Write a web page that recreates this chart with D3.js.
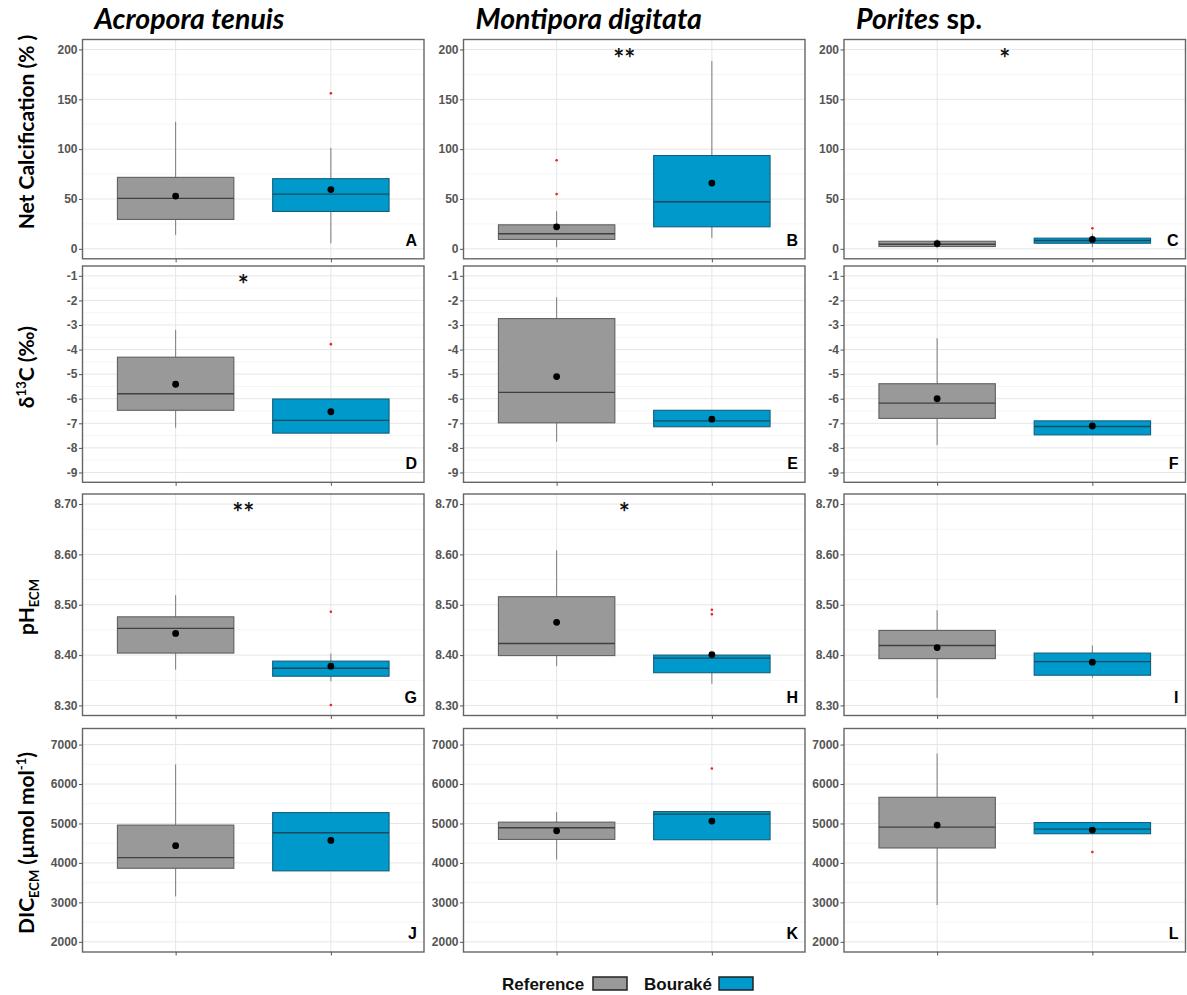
<!DOCTYPE html>
<html><head><meta charset="utf-8">
<script src="https://cdn.jsdelivr.net/npm/d3@7"></script>
<style>body{margin:0;background:#fff} svg{display:block}</style>
</head><body><svg id="c" width="1187" height="995"></svg>
<script>
// ---------- data ----------
const species = ["Acropora tenuis", "Montipora digitata", "Porites sp."];
const sites = ["Reference", "Bouraké"];
const siteColors = ["#999999", "#0099cc"];
const panelLetters = ["A","B","C","D","E","F","G","H","I","J","K","L"];

// per species: [Reference, Bouraké], each [whiskerLow, q1, median, q3, whiskerHigh, mean]
const calcStats = [
  [[14, 29.5, 50.6, 71.7, 127.4, 52.9], [5.6, 37.5, 54.9, 70.4, 101.2, 59.4]],
  [[1.6, 9.4, 15.1, 24.1, 37.8, 22.1], [11, 22.1, 47.3, 93.6, 188.4, 66]],
  [[0.5, 2.3, 4.6, 7.6, 9.5, 5.3], [1.6, 5.6, 8.3, 10.7, 15, 9.4]]
];
const calcOutliers = [[[], [156]], [[54.9, 88.8], []], [[], [20.7]]];

const d13cStats = [
  [[-7.18, -6.47, -5.80, -4.31, -3.20, -5.41], [-7.40, -7.40, -6.88, -6.01, -6.01, -6.53]],
  [[-7.75, -6.98, -5.74, -2.74, -1.87, -5.10], [-7.14, -7.14, -6.90, -6.47, -6.47, -6.83]],
  [[-7.89, -6.80, -6.18, -5.39, -3.54, -6.00], [-7.47, -7.47, -7.13, -6.90, -6.90, -7.11]]
];
const d13cOutliers = [[[], [-3.78]], [[], []], [[], []]];

const phStats = [
  [[8.371, 8.404, 8.453, 8.476, 8.519, 8.443], [8.348, 8.358, 8.374, 8.388, 8.403, 8.378]],
  [[8.378, 8.399, 8.423, 8.516, 8.608, 8.465], [8.343, 8.365, 8.394, 8.400, 8.400, 8.401]],
  [[8.315, 8.393, 8.419, 8.449, 8.489, 8.415], [8.355, 8.360, 8.387, 8.404, 8.419, 8.386]]
];
const phOutliers = [[[], [8.486, 8.301]], [[], [8.490, 8.481]], [[], []]];

const dicStats = [
  [[3152, 3865, 4135, 4959, 6496, 4437], [3799, 3799, 4765, 5276, 5276, 4571]],
  [[4084, 4596, 4891, 5034, 5286, 4815], [4588, 4588, 5236, 5302, 5302, 5060]],
  [[2932, 4379, 4908, 5664, 6773, 4959], [4740, 4740, 4858, 5024, 5024, 4833]]
];
const dicOutliers = [[[], []], [[], [6395]], [[], [4278]]];

const calcTicks = [0, 50, 100, 150, 200];
const d13cTicks = [-9, -8, -7, -6, -5, -4, -3, -2, -1];
const phTicks = [8.30, 8.40, 8.50, 8.60, 8.70];
const dicTicks = [2000, 3000, 4000, 5000, 6000, 7000];

const calcLimits = [0, 200];
const d13cLimits = [-9, -1];
const phLimits = [8.3, 8.7];
const dicLimits = [2000, 7150];

const signif = [["", "**", "*"], ["*", "", ""], ["**", "*", ""], ["", "", ""]];

// ---------- layout ----------
const loc = d3.formatLocale({decimal: ".", thousands: "", grouping: [3], currency: ["", ""], minus: "-"});
const rows = [
  {stats: calcStats, out: calcOutliers, ticks: calcTicks, lim: calcLimits, fmt: loc.format("d")},
  {stats: d13cStats, out: d13cOutliers, ticks: d13cTicks, lim: d13cLimits, fmt: loc.format("d")},
  {stats: phStats, out: phOutliers, ticks: phTicks, lim: phLimits, fmt: loc.format(".2f")},
  {stats: dicStats, out: dicOutliers, ticks: dicTicks, lim: dicLimits, fmt: loc.format("d")}
];
const colLeft = [82.5, 463.5, 844];
const colWidth = 341.5;
const rowTop = [39.5, 266, 494, 728.5];
const rowBottom = [258.8, 482.3, 715.5, 952];

const svg = d3.select("#c");
const tickFont = "'Liberation Sans', Arial, sans-serif";
const titleFont = "Lato, 'Open Sans', sans-serif";

rows.forEach((R, r) => {
  const span = R.lim[1] - R.lim[0];
  const y = d3.scaleLinear().domain([R.lim[0] - 0.05 * span, R.lim[1] + 0.05 * span])
    .range([rowBottom[r], rowTop[r]]);
  const minor = d3.range(R.ticks.length - 1).map(i => (R.ticks[i] + R.ticks[i + 1]) / 2);
  species.forEach((sp, c) => {
    const x = d3.scalePoint().domain(sites).range([colLeft[c], colLeft[c] + colWidth]).padding(0.6);
    const bw = x.step() * 0.75;
    const g = svg.append("g");
    g.append("rect").attr("x", colLeft[c]).attr("y", rowTop[r])
      .attr("width", colWidth).attr("height", rowBottom[r] - rowTop[r]).attr("fill", "#fff");
    g.selectAll(".mn").data(minor).join("line")
      .attr("x1", colLeft[c]).attr("x2", colLeft[c] + colWidth)
      .attr("y1", d => y(d)).attr("y2", d => y(d))
      .attr("stroke", "#f3f3f3").attr("stroke-width", 0.8);
    g.selectAll(".mj").data(R.ticks).join("line")
      .attr("x1", colLeft[c]).attr("x2", colLeft[c] + colWidth)
      .attr("y1", d => y(d)).attr("y2", d => y(d))
      .attr("stroke", "#e6e6e6").attr("stroke-width", 1);
    g.selectAll(".vx").data(sites).join("line")
      .attr("x1", d => x(d)).attr("x2", d => x(d))
      .attr("y1", rowTop[r]).attr("y2", rowBottom[r])
      .attr("stroke", "#e6e6e6").attr("stroke-width", 1);
    sites.forEach((s, k) => {
      const st = R.stats[c][k];
      const cx = x(s);
      g.append("line").attr("x1", cx).attr("x2", cx)
        .attr("y1", y(st[0])).attr("y2", y(st[4]))
        .attr("stroke", "#707070").attr("stroke-width", 0.9);
      g.append("rect").attr("x", cx - bw / 2).attr("y", y(st[3]))
        .attr("width", bw).attr("height", Math.max(1, y(st[1]) - y(st[3])))
        .attr("fill", siteColors[k])
        .attr("stroke", k === 0 ? "#606060" : "#14607c").attr("stroke-width", 1.1);
      g.append("line").attr("x1", cx - bw / 2).attr("x2", cx + bw / 2)
        .attr("y1", y(st[2])).attr("y2", y(st[2]))
        .attr("stroke", k === 0 ? "#404040" : "#1a4a5a").attr("stroke-width", 1.4);
      g.selectAll(null).data(R.out[c][k]).join("circle")
        .attr("cx", cx).attr("cy", d => y(d)).attr("r", 1.3).attr("fill", "#ee2020");
      g.append("circle").attr("cx", cx).attr("cy", y(st[5])).attr("r", 3.4).attr("fill", "#000");
    });
    g.append("rect").attr("x", colLeft[c]).attr("y", rowTop[r])
      .attr("width", colWidth).attr("height", rowBottom[r] - rowTop[r])
      .attr("fill", "none").attr("stroke", "#666").attr("stroke-width", 1.4);
    const ya = g.append("g").attr("transform", `translate(${colLeft[c]},0)`)
      .call(d3.axisLeft(y).tickValues(R.ticks).tickFormat(R.fmt).tickSize(3.5).tickPadding(1.5));
    ya.select(".domain").remove();
    ya.selectAll(".tick line").attr("stroke", "#555");
    ya.selectAll(".tick text").attr("fill", "#555").style("font-family", tickFont)
      .style("font-weight", "bold").style("font-size", "12px");
    const xa = g.append("g").attr("transform", `translate(0,${rowBottom[r]})`)
      .call(d3.axisBottom(x).tickSize(3.5).tickFormat(""));
    xa.select(".domain").remove();
    xa.selectAll(".tick line").attr("stroke", "#555");
    g.append("text").attr("x", colLeft[c] + colWidth - 7).attr("y", rowBottom[r] - 13)
      .attr("text-anchor", "end").style("font-family", tickFont).style("font-weight", "bold")
      .style("font-size", "16px").attr("fill", "#000").text(panelLetters[r * 3 + c]);
    if (signif[r][c]) {
      g.append("text").attr("x", colLeft[c] + colWidth / 2 - 10).attr("y", rowTop[r] + 28)
        .attr("text-anchor", "middle").style("font-family", titleFont).style("font-weight", "bold")
        .style("font-size", "26px").attr("fill", "#111").text(signif[r][c]);
    }
  });
});

// species titles
species.forEach((sp, c) => {
  const t = svg.append("text").attr("x", colLeft[c] + 12).attr("y", 29)
    .style("font-family", titleFont).style("font-weight", "bold").style("font-size", "28.5px")
    .attr("fill", "#000");
  if (sp.endsWith(" sp.")) {
    t.append("tspan").style("font-style", "italic").text(sp.replace(" sp.", ""));
    t.append("tspan").text(" sp.");
  } else {
    t.style("font-style", "italic").text(sp);
  }
});

// y axis titles
function yTitle(yc, build) {
  const t = svg.append("text").attr("transform", `translate(34,${yc}) rotate(-90)`)
    .attr("text-anchor", "middle").style("font-family", titleFont)
    .style("font-weight", "bold").style("font-size", "21px").attr("fill", "#000");
  build(t);
}
yTitle(132, t => t.text("Net Calcification (% )"));
yTitle(367, t => {
  t.append("tspan").text("δ");
  t.append("tspan").attr("dy", -8).style("font-size", "13px").text("13");
  t.append("tspan").attr("dy", 8).text("C (‰)");
});
yTitle(607, t => {
  t.append("tspan").text("pH");
  t.append("tspan").attr("dy", 5).style("font-size", "13px").text("ECM");
});
yTitle(843, t => {
  t.append("tspan").text("DIC");
  t.append("tspan").attr("dy", 5).style("font-size", "13px").text("ECM");
  t.append("tspan").attr("dy", -5).text(" (µmol mol");
  t.append("tspan").attr("dy", -8).style("font-size", "13px").text("-1");
  t.append("tspan").attr("dy", 8).text(")");
});

// legend
const legendX = [502, 644];
const legendBoxX = [593, 719];
sites.forEach((s, k) => {
  svg.append("text").attr("x", legendX[k]).attr("y", 990)
    .style("font-family", tickFont).style("font-weight", "bold").style("font-size", "17px")
    .attr("fill", "#111").text(s);
  svg.append("rect").attr("x", legendBoxX[k]).attr("y", 977).attr("width", 34).attr("height", 13)
    .attr("fill", siteColors[k]).attr("stroke", "#222").attr("stroke-width", 1.5);
});
</script></body></html>
